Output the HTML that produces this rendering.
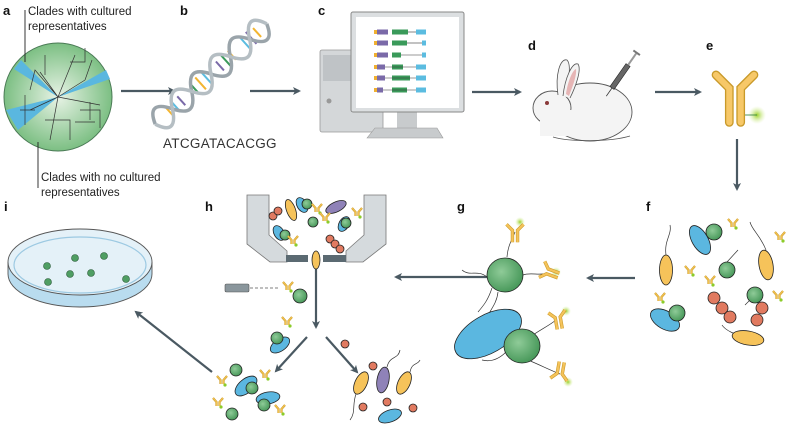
<!DOCTYPE html>
<html><head><meta charset="utf-8"><style>
html,body{margin:0;padding:0;background:#fff;}
svg{display:block;font-family:"Liberation Sans",sans-serif;}
.lb{font-weight:bold;font-size:13px;fill:#111;}
.tx{font-size:11.5px;fill:#222;}
.ar{stroke:#4a5962;stroke-width:2.2;fill:none;}
.o{stroke:#222;stroke-width:0.8;}
.fl{stroke:#333;stroke-width:0.7;fill:none;}
</style></head><body>
<svg width="793" height="428" viewBox="0 0 793 428">
<defs>
<marker id="ah" markerWidth="8" markerHeight="8" refX="6" refY="4" orient="auto" markerUnits="userSpaceOnUse">
<path d="M0,0 L8,4 L0,8 L2,4 Z" fill="#4a5962"/></marker>
<radialGradient id="tg" cx="0.5" cy="0.5" r="0.5"><stop offset="0" stop-color="#e8f3e6"/><stop offset="1" stop-color="#7cbf83"/></radialGradient>
<radialGradient id="gg" cx="0.4" cy="0.4" r="0.6"><stop offset="0" stop-color="#8fcb98"/><stop offset="1" stop-color="#4a9a5c"/></radialGradient>
<radialGradient id="glow"><stop offset="0" stop-color="#9bd12a"/><stop offset="1" stop-color="#d9f0a0" stop-opacity="0"/></radialGradient>
<g id="ab"><path d="M-1.5,0 V-4 L-5,-8 M1.5,0 V-4 L5,-8" stroke="#c99a2a" stroke-width="2.2" fill="none"/><path d="M-1.5,0 V-4 L-5,-8 M1.5,0 V-4 L5,-8" stroke="#f3c24f" stroke-width="1.2" fill="none"/><circle cx="3" cy="1" r="1.6" fill="#8ccc2a"/></g>
<g id="abL"><path d="M-3,12 V-2 L-10,-9 M3,12 V-2 L10,-9" stroke="#c99a2a" stroke-width="4" fill="none"/><path d="M-3,12 V-2 L-10,-9 M3,12 V-2 L10,-9" stroke="#f5c35a" stroke-width="2.6" fill="none"/></g>
</defs>

<!-- panel labels -->
<text class="lb" x="3" y="15">a</text>
<text class="lb" x="180" y="15">b</text>
<text class="lb" x="318" y="15">c</text>
<text class="lb" x="528" y="50">d</text>
<text class="lb" x="706" y="50">e</text>
<text class="lb" x="646" y="211">f</text>
<text class="lb" x="457" y="211">g</text>
<text class="lb" x="205" y="211">h</text>
<text class="lb" x="4" y="211">i</text>

<!-- a tree -->
<circle cx="58" cy="97" r="54" fill="url(#tg)" stroke="#4a7a55" stroke-width="1"/>
<path d="M58,97 L14,69 L21,60 Z" fill="#5ab7df"/>
<path d="M58,97 L106,70 L110,79 Z" fill="#5ab7df"/>
<path d="M58,97 L6,110 L18,130 Z" fill="#5ab7df"/>
<path class="fl" d="M58,97 L40,72 M45,75 V55 M58,97 L35,70 L30,90 M58,97 L75,55 M70,62 H85 V48 M58,97 L100,105 M90,102 V120 M80,110 H100 V128 M58,97 L50,140 M45,120 H70 V140 M58,97 L30,110 M25,95 V125 M20,110 H35 M75,122 H95 M58,97 L85,80 M85,80 L92,60"/>
<path d="M25,10 V62 M38,142 V188" stroke="#222" stroke-width="0.9"/>
<text class="tx" x="28" y="15">Clades with cultured</text>
<text class="tx" x="28" y="30">representatives</text>
<text class="tx" x="41" y="181">Clades with no cultured</text>
<text class="tx" x="41" y="196">representatives</text>

<!-- arrows -->
<path class="ar" d="M121,91 H174" marker-end="url(#ah)"/>
<path class="ar" d="M250,91 H299" marker-end="url(#ah)"/>
<path class="ar" d="M472,92 H520" marker-end="url(#ah)"/>
<path class="ar" d="M655,92 H700" marker-end="url(#ah)"/>
<path class="ar" d="M737,139 V189" marker-end="url(#ah)"/>
<path class="ar" d="M635,278 H588" marker-end="url(#ah)"/>
<path class="ar" d="M494,277 H396" marker-end="url(#ah)"/>
<path class="ar" d="M316,268 V327" marker-end="url(#ah)"/>
<path class="ar" d="M307,337 L276,371" marker-end="url(#ah)"/>
<path class="ar" d="M326,337 L357,372" marker-end="url(#ah)"/>
<path class="ar" d="M212,372 L136,312" marker-end="url(#ah)"/>

<!-- b DNA -->
<g transform="translate(211,74) rotate(-42)">
<g stroke-width="2">
<line x1="-56" y1="-6" x2="-56" y2="6" stroke="#f3b530"/><line x1="-48" y1="-8" x2="-48" y2="8" stroke="#5bbce0"/>
<line x1="-40" y1="-6" x2="-40" y2="6" stroke="#7a6aa8"/><line x1="-22" y1="-7" x2="-22" y2="7" stroke="#3a9a5a"/>
<line x1="-14" y1="-8" x2="-14" y2="8" stroke="#f3b530"/><line x1="-6" y1="-7" x2="-6" y2="7" stroke="#5bbce0"/>
<line x1="12" y1="-6" x2="12" y2="6" stroke="#7a6aa8"/><line x1="20" y1="-8" x2="20" y2="8" stroke="#3a9a5a"/>
<line x1="28" y1="-6" x2="28" y2="6" stroke="#f3b530"/><line x1="46" y1="-7" x2="46" y2="7" stroke="#5bbce0"/>
<line x1="54" y1="-8" x2="54" y2="8" stroke="#7a6aa8"/><line x1="62" y1="-6" x2="62" y2="6" stroke="#f3b530"/>
</g>
<path d="M-75,0 C-69,-16 -61,-16 -52,0 S-35,16 -26,0 S-9,-16 0,0 S17,16 26,0 S43,-16 52,0 S69,16 75,0" stroke="#9aa4aa" stroke-width="3.5" fill="none"/>
<path d="M-75,0 C-69,16 -61,16 -52,0 S-35,-16 -26,0 S-9,16 0,0 S17,-16 26,0 S43,16 52,0 S69,-16 75,0" stroke="#b5bec3" stroke-width="3.5" fill="none"/>
</g>
<text x="163" y="148" font-size="13.5" fill="#333" letter-spacing="0.3">ATCGATACACGG</text>

<!-- c computer -->
<rect x="320" y="50" width="63" height="82" rx="2" fill="#d4d7d9" stroke="#999" stroke-width="0.8"/>
<rect x="323" y="55" width="28" height="26" fill="#bfc3c6"/>
<circle cx="329" cy="101" r="2.5" fill="#999"/>
<rect x="397" y="108" width="20" height="22" fill="#c8cbcd"/>
<path d="M367,138 L375,128 H437 L443,138 Z" fill="#c8cbcd" stroke="#999" stroke-width="0.6"/>
<rect x="351" y="12" width="113" height="100" rx="2" fill="#dcdfe1" stroke="#888" stroke-width="1"/>
<rect x="356" y="17" width="103" height="91" fill="#fff"/>
<g>
<g transform="translate(0,32)"><rect x="374" y="-2" width="3" height="4" fill="#f0b030"/><rect x="377" y="-2.5" width="11" height="5" fill="#7a6aa8"/><rect x="392" y="-2.5" width="16" height="5" fill="#3a9a5a"/><line x1="408" y1="0" x2="416" y2="0" stroke="#333" stroke-width="0.6"/><rect x="416" y="-2.5" width="10" height="5" fill="#5bbce0"/></g>
<g transform="translate(0,43)"><rect x="374" y="-2" width="3" height="4" fill="#f0b030"/><rect x="377" y="-2.5" width="11" height="5" fill="#7a6aa8"/><rect x="392" y="-2.5" width="15" height="5" fill="#3a9a5a"/><line x1="407" y1="0" x2="422" y2="0" stroke="#333" stroke-width="0.6"/><rect x="422" y="-2.5" width="4" height="5" fill="#5bbce0"/></g>
<g transform="translate(0,55)"><rect x="374" y="-2" width="3" height="4" fill="#f0b030"/><rect x="377" y="-2.5" width="11" height="5" fill="#7a6aa8"/><rect x="392" y="-2.5" width="9" height="5" fill="#3a9a5a"/><line x1="401" y1="0" x2="422" y2="0" stroke="#333" stroke-width="0.6"/><rect x="422" y="-2.5" width="4" height="5" fill="#5bbce0"/></g>
<g transform="translate(0,67)"><rect x="374" y="-2" width="3" height="4" fill="#f0b030"/><rect x="377" y="-2.5" width="8" height="5" fill="#7a6aa8"/><rect x="392" y="-2.5" width="11" height="5" fill="#3a9a5a"/><line x1="385" y1="0" x2="416" y2="0" stroke="#333" stroke-width="0.6"/><rect x="416" y="-2.5" width="10" height="5" fill="#5bbce0"/></g>
<g transform="translate(0,78)"><rect x="374" y="-2" width="3" height="4" fill="#f0b030"/><rect x="377" y="-2.5" width="8" height="5" fill="#7a6aa8"/><rect x="392" y="-2.5" width="18" height="5" fill="#3a9a5a"/><line x1="385" y1="0" x2="416" y2="0" stroke="#333" stroke-width="0.6"/><rect x="416" y="-2.5" width="10" height="5" fill="#5bbce0"/></g>
<g transform="translate(0,90)"><rect x="374" y="-2" width="3" height="4" fill="#f0b030"/><rect x="377" y="-2.5" width="6" height="5" fill="#7a6aa8"/><rect x="392" y="-2.5" width="15" height="5" fill="#3a9a5a"/><line x1="383" y1="0" x2="416" y2="0" stroke="#333" stroke-width="0.6"/><rect x="416" y="-2.5" width="10" height="5" fill="#5bbce0"/></g>
</g>

<!-- d rabbit -->
<ellipse cx="590" cy="112" rx="42" ry="29" fill="#f4f4f4" stroke="#555" stroke-width="0.9"/>
<ellipse cx="552" cy="108" rx="19" ry="17" fill="#f4f4f4" stroke="#555" stroke-width="0.9"/>
<rect x="540" y="110" width="60" height="26" fill="#f4f4f4"/>
<path d="M558,95 C555,75 560,58 567,60 C572,65 568,85 565,95" fill="#f4f4f4" stroke="#555" stroke-width="0.8"/>
<path d="M563,96 C565,78 572,62 578,64 C582,70 575,88 570,98" fill="#f4f4f4" stroke="#555" stroke-width="0.8"/>
<path d="M566,94 C568,80 573,70 576,69 C577,76 572,88 569,96" fill="#e6b5b5"/>
<circle cx="547" cy="103" r="2" fill="#8a3a3a"/>
<path d="M553,137 C570,142 610,142 630,136" stroke="#555" fill="none" stroke-width="0.8"/>
<g transform="translate(612,88) rotate(-55)">
<rect x="0" y="-2.5" width="28" height="5" fill="#666" stroke="#222" stroke-width="0.6"/>
<rect x="28" y="-1" width="14" height="2" fill="#999"/><rect x="42" y="-4" width="2" height="8" fill="#777"/>
<line x1="-10" y1="0" x2="0" y2="0" stroke="#333" stroke-width="0.8"/>
</g>

<!-- e antibody -->
<circle cx="757" cy="115" r="9" fill="url(#glow)"/>
<line x1="744" y1="115" x2="757" y2="115" stroke="#2a7a3a" stroke-width="0.8"/>
<g transform="translate(735,92) scale(1.9)"><path d="M-3,16 V-2 L-10,-9 M3,16 V-2 L10,-9" stroke="#c99a2a" stroke-width="4.6" stroke-linecap="round" fill="none"/><path d="M-3,16 V-2 L-10,-9 M3,16 V-2 L10,-9" stroke="#f7c868" stroke-width="3.2" stroke-linecap="round" fill="none"/></g>

<!-- f -->
<g class="o">
<path class="fl" d="M666,255 C664,240 672,235 670,225 M766,250 C760,235 752,230 750,222 M748,338 C735,335 725,330 722,325 M727,262 L738,250 M755,295 L745,305"/>
<ellipse cx="666" cy="270" rx="6.5" ry="15" fill="#f6c35a"/>
<ellipse cx="700" cy="240" rx="8" ry="16" transform="rotate(-30 700 240)" fill="#5bb7e0"/>
<circle cx="714" cy="232" r="8" fill="url(#gg)"/>
<ellipse cx="766" cy="265" rx="7" ry="15" transform="rotate(-10 766 265)" fill="#f6c35a"/>
<circle cx="727" cy="270" r="8" fill="url(#gg)"/>
<circle cx="714" cy="298" r="6" fill="#e17a60"/><circle cx="722" cy="308" r="6" fill="#e17a60"/><circle cx="730" cy="317" r="6" fill="#e17a60"/>
<circle cx="762" cy="308" r="6" fill="#e17a60"/><circle cx="757" cy="320" r="6" fill="#e17a60"/>
<circle cx="755" cy="295" r="8" fill="url(#gg)"/>
<ellipse cx="665" cy="320" rx="16" ry="9" transform="rotate(30 665 320)" fill="#5bb7e0"/>
<circle cx="677" cy="313" r="8" fill="url(#gg)"/>
<ellipse cx="748" cy="338" rx="16" ry="7" transform="rotate(10 748 338)" fill="#f6c35a"/>
</g>
<use href="#ab" x="733" y="227"/><use href="#ab" x="780" y="240"/><use href="#ab" x="690" y="274"/>
<use href="#ab" x="710" y="284"/><use href="#ab" x="778" y="299"/><use href="#ab" x="660" y="301"/>

<!-- g -->
<g class="o">
<path class="fl" d="M487,277 C477,269 470,277 462,270 M492,288 C488,300 484,305 478,312 M498,292 C497,302 492,308 488,315 M507,257 C508,245 512,240 515,232 M523,275 C530,272 540,276 548,273 M533,335 C540,330 550,325 556,320 M528,360 C540,365 550,370 560,374 M506,345 C495,345 490,352 480,350 M506,352 C498,360 490,362 482,360"/>
<ellipse cx="488" cy="334" rx="37" ry="19" transform="rotate(-30 488 334)" fill="#5bb7e0"/>
<ellipse cx="505" cy="275" rx="18" ry="17" fill="url(#gg)"/>
<ellipse cx="522" cy="346" rx="18" ry="17" fill="url(#gg)"/>
</g>
<circle cx="520" cy="222" r="5" fill="url(#glow)"/><circle cx="556" cy="272" r="5" fill="url(#glow)"/>
<circle cx="566" cy="311" r="5" fill="url(#glow)"/><circle cx="568" cy="382" r="5" fill="url(#glow)"/>
<use href="#abL" transform="translate(515,232) scale(0.85)"/>
<use href="#abL" transform="translate(549,272) rotate(-70) scale(0.85)"/>
<use href="#abL" transform="translate(558,319) rotate(-10) scale(0.85)"/>
<use href="#abL" transform="translate(560,372) rotate(190) scale(0.85)"/>

<!-- h sorter -->
<path d="M247,195 H269 V235 L287,251 V262 H270 L247,244 Z" fill="#d5dadd" stroke="#777" stroke-width="0.8"/>
<path d="M386,195 H364 V235 L346,251 V262 H363 L386,244 Z" fill="#d5dadd" stroke="#777" stroke-width="0.8"/>
<rect x="286" y="255" width="22" height="7" fill="#5b6a72"/><rect x="323" y="255" width="23" height="7" fill="#5b6a72"/>
<g class="o">
<ellipse cx="316" cy="260" rx="4" ry="9" fill="#f6c35a"/>
<circle cx="273" cy="216" r="4" fill="#e17a60"/><circle cx="278" cy="211" r="4" fill="#e17a60"/>
<ellipse cx="291" cy="210" rx="4.5" ry="11" transform="rotate(-20 291 210)" fill="#f6c35a"/>
<ellipse cx="302" cy="205" rx="5" ry="8" transform="rotate(-30 302 205)" fill="#5bb7e0"/><circle cx="307" cy="204" r="5" fill="url(#gg)"/>
<ellipse cx="336" cy="207" rx="11" ry="5" transform="rotate(-25 336 207)" fill="#8f82b8"/>
<circle cx="313" cy="222" r="5" fill="url(#gg)"/>
<ellipse cx="344" cy="224" rx="5" ry="8" transform="rotate(30 344 224)" fill="#5bb7e0"/><circle cx="346" cy="223" r="5" fill="url(#gg)"/>
<ellipse cx="279" cy="233" rx="5" ry="8" transform="rotate(-30 279 233)" fill="#5bb7e0"/><circle cx="285" cy="235" r="5" fill="url(#gg)"/>
<circle cx="330" cy="239" r="4" fill="#e17a60"/><circle cx="335" cy="244" r="4" fill="#e17a60"/><circle cx="340" cy="249" r="4" fill="#e17a60"/>
</g>
<use href="#ab" x="317" y="212"/><use href="#ab" x="325" y="221"/><use href="#ab" x="357" y="216"/><use href="#ab" x="293" y="244"/>
<rect x="225" y="284" width="24" height="8" rx="1.5" fill="#8a969c" stroke="#555" stroke-width="0.6"/>
<path d="M250,288 H278" stroke="#555" stroke-width="0.8" stroke-dasharray="3,2"/>
<circle cx="300" cy="296" r="7" fill="url(#gg)" class="o"/><use href="#ab" x="288" y="290"/>
<g class="o">
<ellipse cx="280" cy="345" rx="11" ry="6" transform="rotate(-35 280 345)" fill="#5bb7e0"/><circle cx="277" cy="338" r="6" fill="url(#gg)"/>
<circle cx="345" cy="344" r="4" fill="#e17a60"/>
<circle cx="236" cy="370" r="6" fill="url(#gg)"/>
<ellipse cx="246" cy="386" rx="13" ry="7" transform="rotate(-40 246 386)" fill="#5bb7e0"/><circle cx="252" cy="388" r="6" fill="url(#gg)"/>
<ellipse cx="268" cy="398" rx="12" ry="6" transform="rotate(-10 268 398)" fill="#5bb7e0"/><circle cx="264" cy="405" r="6" fill="url(#gg)"/>
<circle cx="232" cy="414" r="6" fill="url(#gg)"/>
<ellipse cx="361" cy="383" rx="6" ry="12" transform="rotate(25 361 383)" fill="#f6c35a"/>
<ellipse cx="383" cy="380" rx="6" ry="13" transform="rotate(10 383 380)" fill="#8f82b8"/>
<ellipse cx="404" cy="383" rx="6" ry="12" transform="rotate(25 404 383)" fill="#f6c35a"/>
<circle cx="373" cy="366" r="4" fill="#e17a60"/><circle cx="363" cy="407" r="4" fill="#e17a60"/><circle cx="387" cy="402" r="4" fill="#e17a60"/><circle cx="413" cy="408" r="4" fill="#e17a60"/>
<ellipse cx="390" cy="416" rx="12" ry="6" transform="rotate(-20 390 416)" fill="#5bb7e0"/>
</g>
<path class="fl" d="M356,394 C352,405 356,412 350,420 M387,367 C390,355 398,360 400,350 M410,372 C412,362 418,365 420,360"/>
<use href="#ab" x="287" y="325"/><use href="#ab" x="222" y="384"/><use href="#ab" x="265" y="378"/><use href="#ab" x="280" y="413"/><use href="#ab" x="218" y="406"/>

<!-- i petri -->
<path d="M8,262 V274 A72,33 0 0 0 152,274 V262" fill="#b9dcef" stroke="#555" stroke-width="0.9"/>
<ellipse cx="80" cy="262" rx="72" ry="33" fill="#e4f1f8" stroke="#555" stroke-width="0.9"/>
<ellipse cx="80" cy="265" rx="66" ry="28" fill="none" stroke="#9cc9e2" stroke-width="1.2"/>
<g fill="#4f9e63" stroke="#2b5a38" stroke-width="0.6">
<circle cx="75" cy="258" r="3.5"/><circle cx="104" cy="256" r="3.5"/><circle cx="47" cy="266" r="3.5"/>
<circle cx="70" cy="274" r="3.5"/><circle cx="91" cy="273" r="3.5"/><circle cx="126" cy="279" r="3.5"/><circle cx="48" cy="282" r="3.5"/>
</g>
</svg>
</body></html>
